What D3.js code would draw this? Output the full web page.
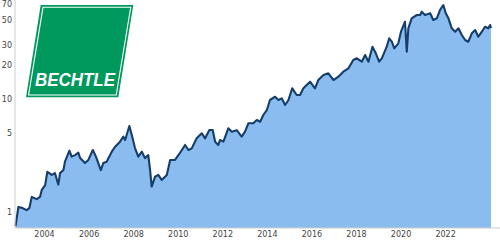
<!DOCTYPE html>
<html>
<head>
<meta charset="utf-8">
<script src="https://cdn.jsdelivr.net/npm/d3@7"></script>
<style>
  body { margin: 0; background: #fff; }
  svg { display: block; }
  .axis text { font-family: "DejaVu Sans", sans-serif; font-size: 8px; fill: #444; }
  .axis path { stroke: #ccc; }
</style>
</head>
<body>
<div id="chart"></div>
<script>
// share price (decimal year, EUR)
var years = [2002.72, 2002.8, 2002.85, 2003.0, 2003.22, 2003.34, 2003.45, 2003.67, 2003.82, 2003.9,
  2004.05, 2004.15, 2004.35, 2004.49, 2004.64, 2004.72, 2004.87, 2004.94, 2005.14, 2005.24,
  2005.39, 2005.54, 2005.62, 2005.84, 2005.99, 2006.19, 2006.33, 2006.55, 2006.66, 2006.81,
  2007.04, 2007.19, 2007.41, 2007.56, 2007.64, 2007.83, 2007.94, 2008.08, 2008.23, 2008.39,
  2008.53, 2008.68, 2008.76, 2008.83, 2008.98, 2009.13, 2009.28, 2009.51, 2009.66, 2009.88,
  2010.1, 2010.33, 2010.48, 2010.63, 2010.85, 2011.08, 2011.23, 2011.42, 2011.57, 2011.68,
  2011.82, 2011.9, 2012.05, 2012.27, 2012.43, 2012.65, 2012.87, 2013.02, 2013.17, 2013.39,
  2013.55, 2013.7, 2013.84, 2014.0, 2014.14, 2014.37, 2014.52, 2014.67, 2014.82, 2014.97,
  2015.14, 2015.34, 2015.49, 2015.64, 2015.79, 2015.94, 2016.16, 2016.31, 2016.54, 2016.76,
  2016.99, 2017.21, 2017.43, 2017.66, 2017.88, 2018.04, 2018.26, 2018.41, 2018.56, 2018.74,
  2018.89, 2019.04, 2019.16, 2019.38, 2019.49, 2019.61, 2019.72, 2019.9, 2020.02, 2020.2,
  2020.28, 2020.35, 2020.5, 2020.73, 2020.88, 2020.95, 2021.1, 2021.33, 2021.47, 2021.63,
  2021.77, 2021.92, 2022.03, 2022.15, 2022.3, 2022.45, 2022.6, 2022.75, 2022.9, 2023.04,
  2023.2, 2023.35, 2023.49, 2023.65, 2023.79, 2023.94, 2024.02, 2024.06];

var prices = [0.75, 0.95, 1.11, 1.09, 1.04, 1.08, 1.36, 1.30, 1.36, 1.57,
  1.73, 2.27, 2.13, 2.21, 1.75, 2.21, 2.35, 2.79, 3.49, 3.09,
  3.19, 3.35, 3.0, 2.71, 2.89, 3.54, 3.09, 2.35, 2.71, 2.79,
  3.42, 3.78, 4.19, 4.64, 4.34, 5.77, 4.80, 3.7, 3.09, 3.42,
  3.0, 3.19, 2.35, 1.68, 2.05, 2.13, 1.92, 2.13, 2.89, 2.89,
  3.33, 3.92, 3.54, 3.66, 4.49, 4.97, 4.49, 5.32, 5.32, 4.19,
  3.92, 4.34, 4.2, 5.5, 5.14, 5.3, 4.64, 5.14, 6.1, 6.1,
  6.52, 6.3, 7.22, 7.99, 9.8, 10.48, 9.8, 10.14, 8.85, 9.8,
  12.44, 10.85, 10.85, 12.44, 13.3, 14.23, 12.44, 14.73, 16.31, 16.89,
  14.73, 15.76, 17.44, 18.69, 22.14, 22.92, 21.38, 24.51, 21.38, 29.03,
  25.37, 21.38, 22.92, 29.03, 34.45, 32.14, 28.1, 31.11, 39.41, 48.31,
  26.22, 42.24, 51.78, 55.39, 55.39, 59.24, 55.39, 57.34, 50.03, 51.78,
  61.33, 67.91, 57.34, 51.78, 42.24, 39.41, 42.24, 36.85, 33.27, 32.14,
  38.14, 40.79, 35.59, 39.41, 43.63, 42.24, 45.17, 42.5];

var yTicks = [1, 5, 10, 20, 30, 50, 70];
var xTicks = [2004, 2006, 2008, 2010, 2012, 2014, 2016, 2018, 2020, 2022];

function Chart(){
  var W = 500, H = 240;
  var m = {t:0, r:9, b:12, l:15.5};

  var exports = function(selection){
    var data = years.map(function(d,i){ return {year:d, price:prices[i]}; });

    var x = d3.scaleLinear()
        .domain(d3.extent(data, function(d){ return d.year; }))
        .range([m.l, W - m.r]);
    var y = d3.scaleLog()
        .domain([0.722, 75.2])
        .range([H - m.b, m.t]);

    var svg = selection.append('svg')
        .attr('width', W)
        .attr('height', H);

    var area = d3.area()
        .x(function(d){ return x(d.year); })
        .y0(H - m.b)
        .y1(function(d){ return y(d.price); });
    var line = d3.line()
        .x(function(d){ return x(d.year); })
        .y(function(d){ return y(d.price); });

    svg.append('path').datum(data)
        .attr('d', area)
        .attr('fill', '#8bbcf0');

    svg.append('path').datum(data)
        .attr('d', line)
        .attr('fill', 'none')
        .attr('stroke', '#153e6a')
        .attr('stroke-width', 2.1)
        .attr('stroke-linejoin', 'round');

    //axes
    svg.append('g').attr('class','axis')
        .attr('transform','translate(15,0)')
        .call(d3.axisLeft(y).tickValues(yTicks).tickSize(0).tickPadding(3).tickFormat(d3.format('d')))
        .call(function(g){ g.select('.domain').attr('d','M0,0V' + (H - m.b)); });

    svg.append('g').attr('class','axis')
        .attr('transform','translate(0,' + (H - m.b) + ')')
        .call(d3.axisBottom(x).tickValues(xTicks).tickSize(0).tickPadding(3).tickFormat(d3.format('d')))
        .call(function(g){ g.select('.domain').attr('d','M15,0H' + W); });

    //logo
    var logo = svg.append('g').attr('class','logo');
    logo.append('polygon')
        .attr('points','40.7,5 133.3,5 118.3,97.3 26,97.3')
        .attr('fill','#00995d');
    logo.append('polygon')
        .attr('points','43,7.3 130.7,7.3 116.2,95 28.6,95')
        .attr('fill','none')
        .attr('stroke','#fff')
        .attr('stroke-width',1.1);
    logo.append('text')
        .attr('x', 35)
        .attr('y', 86)
        .attr('textLength', 80)
        .attr('lengthAdjust','spacingAndGlyphs')
        .attr('font-family','"Liberation Sans", Arial, sans-serif')
        .attr('font-weight','bold')
        .attr('font-style','italic')
        .attr('font-size', 17.5)
        .attr('fill','#fff')
        .text('BECHTLE');
  };
  return exports;
}

d3.select('#chart').call(Chart());
</script>
</body>
</html>
